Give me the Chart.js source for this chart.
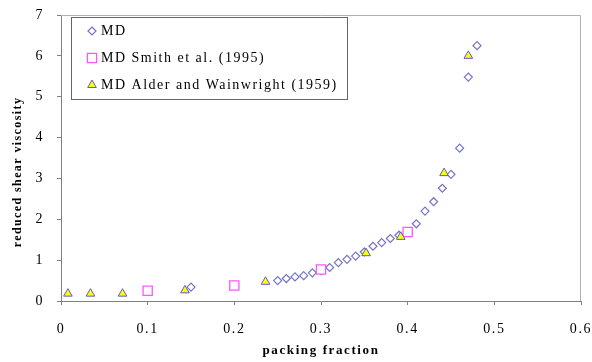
<!DOCTYPE html>
<html>
<head>
<meta charset="utf-8">
<script src="https://cdn.jsdelivr.net/npm/chart.js@4.4.1/dist/chart.umd.min.js"></script>
<style>
  html, body { margin: 0; padding: 0; background: #fff; }
</style>
</head>
<body>
<canvas id="viscosity" width="592" height="362"></canvas>
<script>
// MD (this work)
var mdX = [0.15, 0.25, 0.26, 0.27, 0.28, 0.29, 0.30, 0.31, 0.32, 0.33, 0.34, 0.35,
           0.36, 0.37, 0.38, 0.39, 0.40, 0.41, 0.42, 0.43, 0.44, 0.45, 0.46, 0.47, 0.48];
var mdY = [0.34, 0.50, 0.55, 0.59, 0.62, 0.69, 0.74, 0.82, 0.94, 1.02, 1.10, 1.20,
           1.34, 1.43, 1.53, 1.61, 1.70, 1.89, 2.20, 2.43, 2.76, 3.10, 3.74, 5.48, 6.25];

// MD Smith et al. (1995)
var smithX = [0.1, 0.2, 0.3, 0.4];
var smithY = [0.25, 0.38, 0.77, 1.69];

// MD Alder and Wainwright (1959)
var alderX = [0.008, 0.034, 0.071, 0.143, 0.236, 0.352, 0.392, 0.442, 0.470];
var alderY = [0.18, 0.18, 0.18, 0.26, 0.47, 1.17, 1.57, 3.13, 6.00];

var seriesLabels = ["MD", "MD Smith et al. (1995)", "MD Alder and Wainwright (1959)"];
var xTitle = "packing fraction";
var yTitle = "reduced shear viscosity";

function pairs(xs, ys) {
  return xs.map(function (x, i) { return {x: x, y: ys[i]}; });
}

var serif = "'Liberation Serif', 'DejaVu Serif', serif";

// draws one legend marker like the point style of the dataset
function marker(ctx, ds, x, y) {
  var r = ds.pointRadius;
  ctx.save();
  ctx.beginPath();
  if (ds.pointStyle === "rectRot") {
    ctx.moveTo(x, y - r); ctx.lineTo(x + r, y); ctx.lineTo(x, y + r); ctx.lineTo(x - r, y);
  } else if (ds.pointStyle === "rect") {
    var s = Math.SQRT1_2 * r;
    ctx.rect(x - s, y - s, 2 * s, 2 * s);
  } else {
    ctx.moveTo(x, y - r); ctx.lineTo(x + r * 0.866, y + r * 0.5); ctx.lineTo(x - r * 0.866, y + r * 0.5);
  }
  ctx.closePath();
  ctx.fillStyle = ds.pointBackgroundColor;
  ctx.fill();
  ctx.lineWidth = ds.pointBorderWidth;
  ctx.strokeStyle = ds.pointBorderColor;
  ctx.stroke();
  ctx.restore();
}

// the old picture has wide-set text, so space the letters out a bit
var spacingPlugin = {
  id: "spacing",
  beforeUpdate: function (chart) { chart.ctx.letterSpacing = "1.6px"; },
  beforeDraw: function (chart) { chart.ctx.letterSpacing = "1.6px"; }
};

var framePlugin = {
  id: "frame",
  beforeDatasetsDraw: function (chart) {
    var a = chart.chartArea, ctx = chart.ctx;
    ctx.save();
    ctx.strokeStyle = "#b0b0b0";
    ctx.lineWidth = 1;
    ctx.beginPath();
    ctx.moveTo(a.left, a.top + 0.5);
    ctx.lineTo(a.right - 0.5, a.top + 0.5);
    ctx.lineTo(a.right - 0.5, a.bottom);
    ctx.stroke();
    ctx.restore();
  }
};

// y title sits a little below the middle of the axis in the original
var yTitlePlugin = {
  id: "yTitle",
  afterDraw: function (chart) {
    var ctx = chart.ctx;
    ctx.save();
    ctx.translate(18, 172);
    ctx.rotate(-Math.PI / 2);
    ctx.font = "bold 12px " + serif;
    ctx.letterSpacing = "1.4px";
    ctx.fillStyle = "#000";
    ctx.textAlign = "center";
    ctx.textBaseline = "middle";
    ctx.fillText(yTitle, 0, 0);
    ctx.restore();
  }
};

var legendPlugin = {
  id: "boxLegend",
  afterDraw: function (chart) {
    var a = chart.chartArea, ctx = chart.ctx;
    var bx = a.left + 10, by = a.top + 2, bw = 276, bh = 82;
    ctx.save();
    ctx.fillStyle = "#fff";
    ctx.fillRect(bx, by, bw, bh);
    ctx.strokeStyle = "#666";
    ctx.lineWidth = 1;
    ctx.strokeRect(bx + 0.5, by + 0.5, bw, bh);
    ctx.font = "14px " + serif;
    ctx.letterSpacing = "1.5px";
    ctx.fillStyle = "#000";
    ctx.textBaseline = "middle";
    var rows = [by + 14, by + 41, by + 68];
    chart.data.datasets.forEach(function (ds, i) {
      marker(ctx, ds, bx + 21, rows[i]);
      ctx.fillText(ds.label, bx + 30, rows[i]);
    });
    ctx.restore();
  }
};

new Chart("viscosity", {
  type: "scatter",
  data: {
    datasets: [
      {
        label: seriesLabels[0],
        data: pairs(mdX, mdY),
        pointStyle: "rectRot",
        pointRadius: 4,
        pointBorderWidth: 1.2,
        pointBorderColor: "#7474c8",
        pointBackgroundColor: "rgba(255,255,255,0)",
        order: 3
      },
      {
        label: seriesLabels[1],
        data: pairs(smithX, smithY),
        pointStyle: "rect",
        pointRadius: 6.5,
        pointBorderWidth: 1.3,
        pointBorderColor: "#ff55ff",
        pointBackgroundColor: "#ffffff",
        order: 2
      },
      {
        label: seriesLabels[2],
        data: pairs(alderX, alderY),
        pointStyle: "triangle",
        pointRadius: 5,
        pointBorderWidth: 1,
        pointBorderColor: "#5a5ad8",
        pointBackgroundColor: "#ffff00",
        order: 1
      }
    ]
  },
  options: {
    responsive: false,
    animation: false,
    layout: {padding: {left: 0, top: 15, right: 11, bottom: 0}},
    plugins: {
      legend: {display: false},
      tooltip: {enabled: false}
    },
    scales: {
      x: {
        type: "linear",
        min: 0,
        max: 0.6,
        afterFit: function (scale) {
          scale.height = 61;
          scale.paddingLeft = 0;
          scale.paddingRight = 0;
        },
        ticks: {stepSize: 0.1, padding: 16, color: "#000", font: {family: serif, size: 14}},
        grid: {drawOnChartArea: false, drawTicks: true, tickLength: 4, color: "#808080"},
        border: {color: "#808080"},
        title: {display: true, text: xTitle, color: "#000",
                font: {family: serif, size: 13, weight: "bold"}, padding: {top: 0, bottom: 4}}
      },
      y: {
        min: 0,
        max: 7,
        afterFit: function (scale) {
          scale.width = 61;
          scale.paddingTop = 0;
          scale.paddingBottom = 0;
        },
        ticks: {stepSize: 1, padding: 13, color: "#000", font: {family: serif, size: 14}},
        grid: {drawOnChartArea: false, drawTicks: true, tickLength: 4, color: "#808080"},
        border: {color: "#808080"},
        title: {display: false}
      }
    }
  },
  plugins: [spacingPlugin, framePlugin, yTitlePlugin, legendPlugin]
});
</script>
</body>
</html>
